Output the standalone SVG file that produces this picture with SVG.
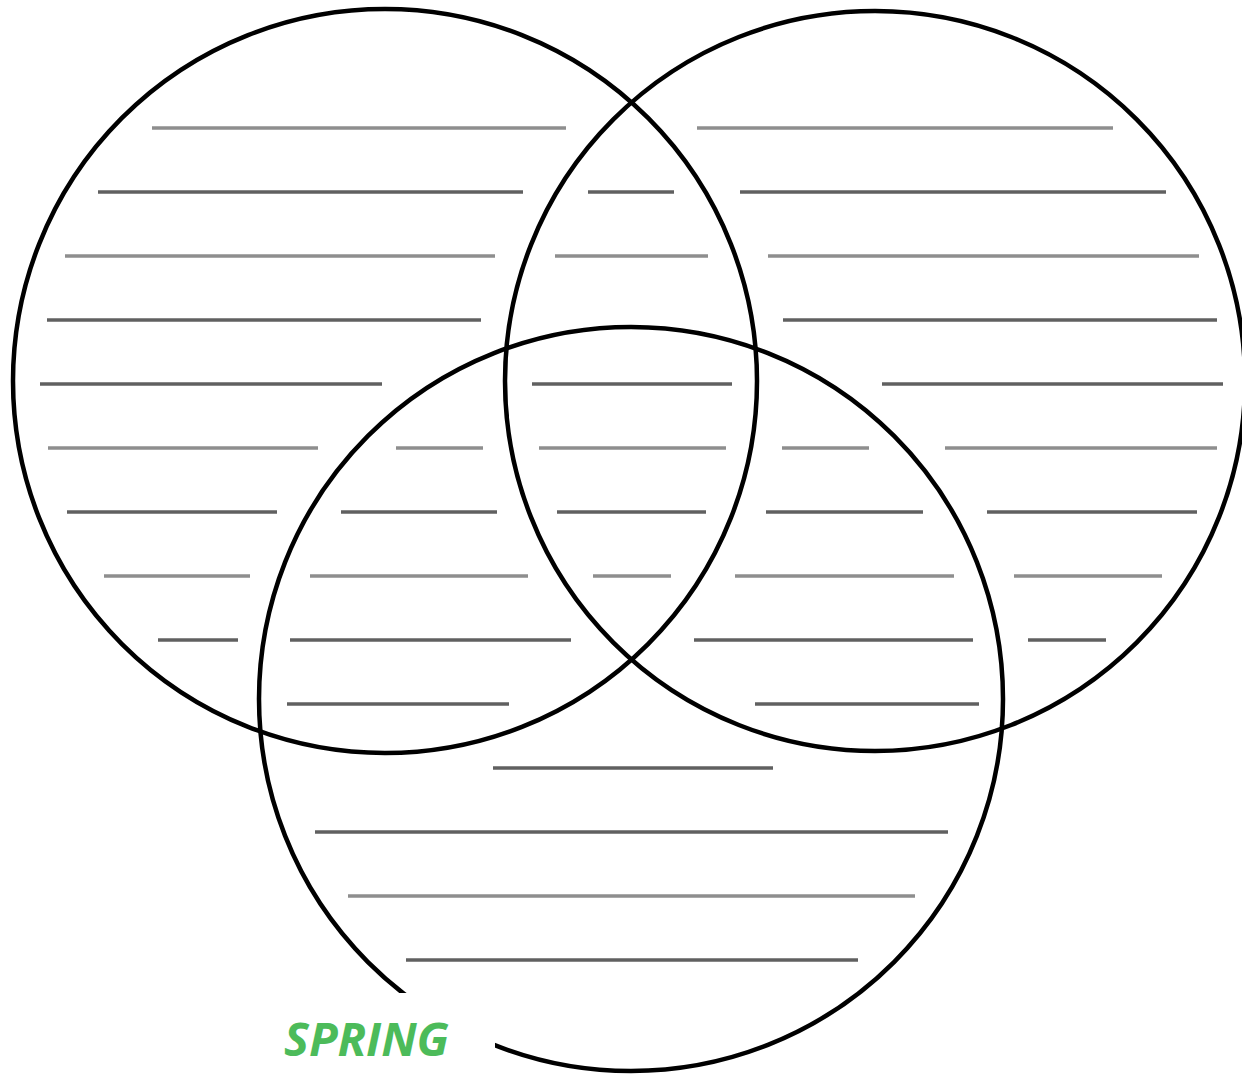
<svg xmlns="http://www.w3.org/2000/svg" width="1242" height="1074" viewBox="0 0 1242 1074">
<style>
.c{fill:none;stroke:#000;stroke-width:4.5}
.d{stroke:#606060;stroke-width:3.5}
.l{stroke:#8e8e8e;stroke-width:3.5}
.t{font-family:"Open Sans","Liberation Sans",sans-serif;font-weight:bold;font-style:italic;font-size:47px;fill:#4cbb5a}
</style>
<rect width="1242" height="1074" fill="#fff"/>
<g id="writing-lines">
<line class="l" x1="152" y1="128" x2="566" y2="128"/>
<line class="l" x1="697" y1="128" x2="1113" y2="128"/>
<line class="d" x1="98" y1="192" x2="523" y2="192"/>
<line class="d" x1="588" y1="192" x2="674" y2="192"/>
<line class="d" x1="740" y1="192" x2="1166" y2="192"/>
<line class="l" x1="65" y1="256" x2="495" y2="256"/>
<line class="l" x1="555" y1="256" x2="708" y2="256"/>
<line class="l" x1="768" y1="256" x2="1199" y2="256"/>
<line class="d" x1="47" y1="320" x2="481" y2="320"/>
<line class="d" x1="783" y1="320" x2="1217" y2="320"/>
<line class="d" x1="40" y1="384" x2="382" y2="384"/>
<line class="d" x1="532" y1="384" x2="732" y2="384"/>
<line class="d" x1="882" y1="384" x2="1223" y2="384"/>
<line class="l" x1="48" y1="448" x2="318" y2="448"/>
<line class="l" x1="396" y1="448" x2="483" y2="448"/>
<line class="l" x1="539" y1="448" x2="726" y2="448"/>
<line class="l" x1="782" y1="448" x2="869" y2="448"/>
<line class="l" x1="945" y1="448" x2="1217" y2="448"/>
<line class="d" x1="67" y1="512" x2="277" y2="512"/>
<line class="d" x1="341" y1="512" x2="497" y2="512"/>
<line class="d" x1="557" y1="512" x2="706" y2="512"/>
<line class="d" x1="766" y1="512" x2="923" y2="512"/>
<line class="d" x1="987" y1="512" x2="1197" y2="512"/>
<line class="l" x1="104" y1="576" x2="250" y2="576"/>
<line class="l" x1="310" y1="576" x2="528" y2="576"/>
<line class="l" x1="593" y1="576" x2="671" y2="576"/>
<line class="l" x1="735" y1="576" x2="954" y2="576"/>
<line class="l" x1="1014" y1="576" x2="1162" y2="576"/>
<line class="d" x1="158" y1="640" x2="238" y2="640"/>
<line class="d" x1="290" y1="640" x2="571" y2="640"/>
<line class="d" x1="694" y1="640" x2="973" y2="640"/>
<line class="d" x1="1028" y1="640" x2="1106" y2="640"/>
<line class="d" x1="287" y1="704" x2="509" y2="704"/>
<line class="d" x1="755" y1="704" x2="979" y2="704"/>
<line class="d" x1="493" y1="768" x2="773" y2="768"/>
<line class="d" x1="315" y1="832" x2="948" y2="832"/>
<line class="l" x1="348" y1="896" x2="915" y2="896"/>
<line class="d" x1="406" y1="960" x2="858" y2="960"/>
</g>
<g id="circle-left"><circle class="c" cx="385" cy="381" r="372"/></g>
<g id="circle-right"><circle class="c" cx="875" cy="381" r="370"/></g>
<g id="circle-bottom"><circle class="c" cx="631" cy="699" r="372"/></g>
<rect x="270" y="993" width="225" height="81" fill="#fff"/>
<g id="label-spring"><text class="t" x="284" y="1056" textLength="165" lengthAdjust="spacingAndGlyphs">SPRING</text></g>
</svg>
